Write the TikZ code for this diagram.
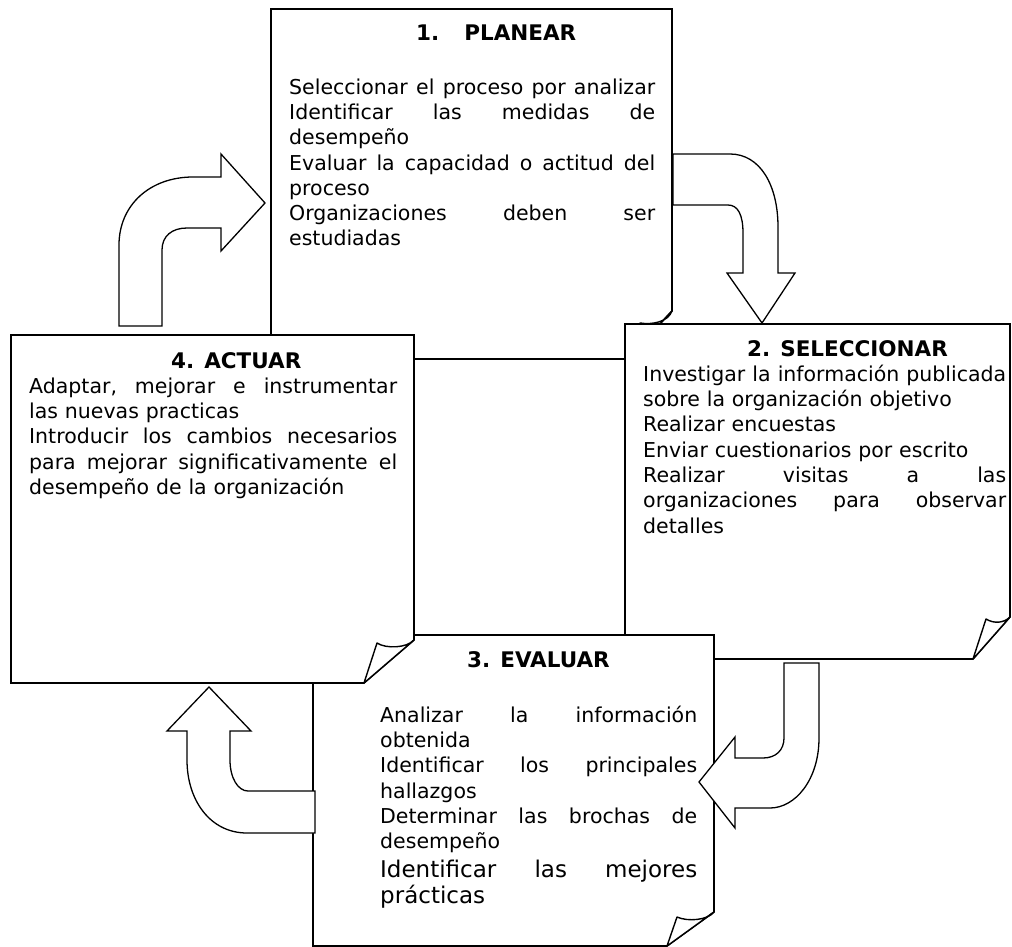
\documentclass[tikz,border=0pt]{standalone}
\usepackage{fontspec}
\setmainfont{DejaVu Sans}
\newcommand{\J}[2]{\makebox[#1][l]{#2}}
\newcommand{\sep}{\hfill}
\begin{document}
\begin{tikzpicture}[x=1pt,y=-1pt,
  boxline/.style={draw=black, line width=1.6pt, fill=white, line join=miter},
  flap/.style={draw=black, line width=1.4pt, fill=white, line join=round},
  arrowshape/.style={draw=black, line width=1.3pt, fill=white, line join=miter},
  body/.style={anchor=north west, inner sep=0pt, align=left, font=\fontsize{20.5}{25.3}\selectfont},
  bigbody/.style={anchor=north west, inner sep=0pt, align=left, font=\fontsize{23}{26.5}\selectfont},
  ttl/.style={anchor=base west, inner sep=0pt, font=\fontsize{21.5}{26}\selectfont\bfseries}]
\fill[white] (0,0) rectangle (1012,947);
\useasboundingbox (0,0) rectangle (1012,947);

% Box 1 PLANEAR
\draw[boxline] (271,9) -- (672,9) -- (672,311) -- (627,359) -- (271,359) -- cycle;
\draw[flap] (672,311) .. controls (668,322) and (652,325) .. (640,323) -- (627,359) -- cycle;
\node[ttl] (t1) at (416,41) {1.\hspace{25pt}PLANEAR};
\node[body, text width=366pt] (b1) at (289,77) {\rule{0pt}{17pt}\J{366pt}{Seleccionar\sep el\sep proceso\sep por\sep analizar}\\
\J{366pt}{Identificar\sep las\sep medidas\sep de}\\
desempeño\\
\J{366pt}{Evaluar\sep la\sep capacidad\sep o\sep actitud\sep del}\\
proceso\\
\J{366pt}{Organizaciones\sep deben\sep ser}\\
estudiadas};

% Box 2 SELECCIONAR
\draw[boxline] (625,324) -- (1010,324) -- (1010,617) -- (973,659) -- (625,659) -- cycle;
\draw[flap] (1010,617) .. controls (1004,623) and (994,624) .. (986,619) -- (973,659) -- cycle;
\node[ttl] (t2) at (747,356) {2. SELECCIONAR};
\node[body, text width=363pt] (b2) at (643,364) {\rule{0pt}{17pt}\J{363pt}{Investigar\sep la\sep información\sep publicada}\\
sobre la organización objetivo\\
Realizar encuestas\\
Enviar cuestionarios por escrito\\
\J{363pt}{Realizar\sep visitas\sep a\sep las}\\
\J{363pt}{organizaciones\sep para\sep observar}\\
detalles};

% Box 3 EVALUAR
\draw[boxline] (313,635) -- (714,635) -- (714,912) -- (667,946) -- (313,946) -- cycle;
\draw[flap] (714,912) .. controls (708,920) and (688,922) .. (677,917) -- (667,946) -- cycle;
\node[ttl] (t3) at (467,667) {3. EVALUAR};
\node[body, text width=317pt] (b3) at (380,705) {\rule{0pt}{17pt}\J{317pt}{Analizar\sep la\sep información}\\
obtenida\\
\J{317pt}{Identificar\sep los\sep principales}\\
hallazgos\\
\J{317pt}{Determinar\sep las\sep brochas\sep de}\\
desempeño};
\node[bigbody, text width=317pt] (b3b) at (380,858) {\rule{0pt}{19pt}\J{317pt}{Identificar\sep las\sep mejores}\\
prácticas};

% Box 4 ACTUAR
\draw[boxline] (11,335) -- (414,335) -- (414,640) -- (364,683) -- (11,683) -- cycle;
\draw[flap] (414,640) .. controls (407,648) and (386,649) .. (377,643) -- (364,683) -- cycle;
\node[ttl] (t4) at (171,368) {4. ACTUAR};
\node[body, text width=368pt] (b4) at (29,376) {\rule{0pt}{17pt}\J{368pt}{Adaptar,\sep mejorar\sep e\sep instrumentar}\\
las nuevas practicas\\
\J{368pt}{Introducir\sep los\sep cambios\sep necesarios}\\
\J{368pt}{para\sep mejorar\sep significativamente\sep el}\\
desempeño de la organización};

% Arrow 4 -> 1
\draw[arrowshape] (119,326) -- (119,245) .. controls (119,205) and (150,177) .. (193,177)
  -- (221,177) -- (221,154) -- (265,203) -- (221,251) -- (221,228) -- (187,228)
  .. controls (172,228) and (162,236) .. (162,250) -- (162,326) -- cycle;
% Arrow 1 -> 2
\draw[arrowshape] (673,154) -- (730,154) .. controls (760,154) and (778,185) .. (778,227)
  -- (778,273) -- (795,273) -- (762,323) -- (727,273) -- (743,273) -- (743,233)
  .. controls (743,215) and (738,205) .. (728,205) -- (673,205) -- cycle;
% Arrow 2 -> 3
\draw[arrowshape] (784,663) -- (819,663) -- (819,738) .. controls (819,780) and (795,808) .. (770,808)
  -- (735,808) -- (735,828) -- (699,782) -- (735,737) -- (735,758) -- (763,758)
  .. controls (776,758) and (784,750) .. (784,738) -- cycle;
% Arrow 3 -> 4
\draw[arrowshape] (209,687) -- (251,731) -- (230,731) -- (230,760) .. controls (230,778) and (238,791) .. (248,791)
  -- (315,791) -- (315,833) -- (247,833) .. controls (210,833) and (187,800) .. (187,760)
  -- (187,731) -- (167,731) -- cycle;
\end{tikzpicture}
\end{document}
